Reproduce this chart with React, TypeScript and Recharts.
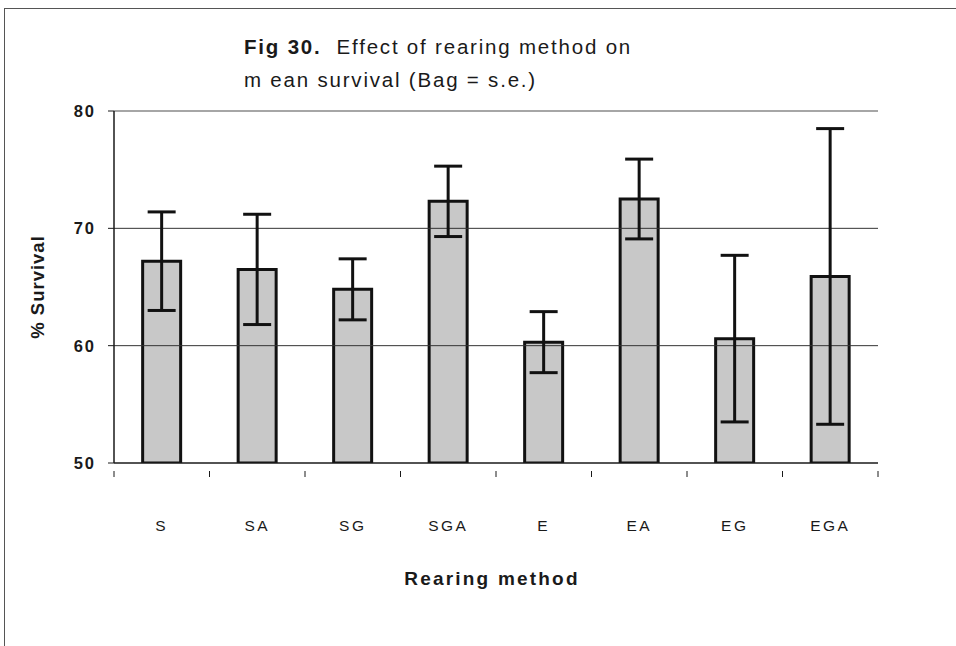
import React from "react";
import {
  BarChart, Bar, XAxis, YAxis, ErrorBar, ReferenceLine,
} from "recharts";

// rearing methods and their mean survival (%) with standard errors
const categories = ["S", "SA", "SG", "SGA", "E", "EA", "EG", "EGA"];
const meanSurvival = [67.2, 66.5, 64.8, 72.3, 60.3, 72.5, 60.6, 65.9];
const stdErr = [4.2, 4.7, 2.6, 3.0, 2.6, 3.4, 7.1, 12.6];
const yTicks = [50, 60, 70, 80];

const data = categories.map((c, i) => ({
  method: c,
  survival: meanSurvival[i],
  se: stdErr[i],
}));

const W = 956;
const H = 646;
const M = { top: 111, right: 78, left: 54, bottom: 113 };
const Y_W = 60;
const X_H = 70;
const BAND = (W - M.left - Y_W - M.right) / categories.length;

const FONT = "'Liberation Sans', Arial, sans-serif";
const INK = "#1a1a1a";

const XTick = (props: any) => {
  const { x, y, payload, index } = props;
  const left = x - BAND / 2;
  return (
    <g>
      <line x1={left} x2={left} y1={y} y2={y + 6} stroke={INK} strokeWidth={1} />
      {index === categories.length - 1 && (
        <line x1={x + BAND / 2} x2={x + BAND / 2} y1={y} y2={y + 6} stroke={INK} strokeWidth={1} />
      )}
      <text x={x} y={y + 60} textAnchor="middle" fontSize={15.5} fill={INK}
        fontFamily={FONT} letterSpacing={2.5}>
        {payload.value}
      </text>
    </g>
  );
};

export default function App() {
  return (
    <div style={{ position: "absolute", left: 0, top: 0, width: W, height: H, background: "#fff", overflow: "hidden" }}>
      {/* scanned page frame */}
      <div style={{ position: "absolute", left: 4, top: 8, width: W, height: H,
        borderLeft: "1.5px solid #555", borderTop: "1.5px solid #555" }} />

      <div style={{ position: "absolute", left: 244, top: 30, fontFamily: FONT, fontSize: 20.5,
        color: INK, letterSpacing: 1.8, lineHeight: "33px", whiteSpace: "nowrap" }}>
        <div><b>Fig 30.</b>&nbsp; Effect of rearing method on</div>
        <div>m ean survival (Bag = s.e.)</div>
      </div>

      <div style={{ position: "absolute", left: 38, top: 287, transform: "translate(-50%, -50%) rotate(-90deg)",
        fontFamily: FONT, fontSize: 18.5, fontWeight: 700, color: INK, letterSpacing: 1, whiteSpace: "nowrap" }}>
        % Survival
      </div>

      <div style={{ position: "absolute", left: 492, top: 579, transform: "translate(-50%, -50%)",
        fontFamily: FONT, fontSize: 19, fontWeight: 700, color: INK, letterSpacing: 2.2, whiteSpace: "nowrap" }}>
        Rearing method
      </div>

      <div style={{ position: "absolute", left: 0, top: 0 }}>
        <BarChart width={W} height={H} data={data} margin={M} barCategoryGap="30%">
          <ReferenceLine y={80} stroke="#888" strokeWidth={1.5} />
          <ReferenceLine y={70} stroke="#333" strokeWidth={1} />
          <ReferenceLine y={60} stroke="#333" strokeWidth={1} />
          <XAxis dataKey="method" height={X_H} tickLine={false} tick={<XTick />}
            axisLine={{ stroke: INK, strokeWidth: 1.5 }} interval={0} />
          <YAxis yAxisId={0} width={Y_W} domain={[50, 80]} ticks={yTicks} allowDataOverflow
            axisLine={{ stroke: INK, strokeWidth: 1.5 }} tickLine={{ stroke: INK }} tickSize={6} tickMargin={12}
            tick={{ fontSize: 16.5, fill: INK, fontFamily: FONT, fontWeight: 700, letterSpacing: 2 }} />
          <YAxis yAxisId="r" orientation="right" width={0} domain={[50, 80]} tick={false} tickLine={false}
            axisLine={{ stroke: "#777", strokeWidth: 1, strokeDasharray: "2 1" }} />
          <Bar dataKey="survival" fill="#c8c8c8" stroke="#111" strokeWidth={3} isAnimationActive={false}>
            <ErrorBar dataKey="se" width={14} strokeWidth={3} stroke="#111" direction="y" />
          </Bar>
        </BarChart>
      </div>
    </div>
  );
}
